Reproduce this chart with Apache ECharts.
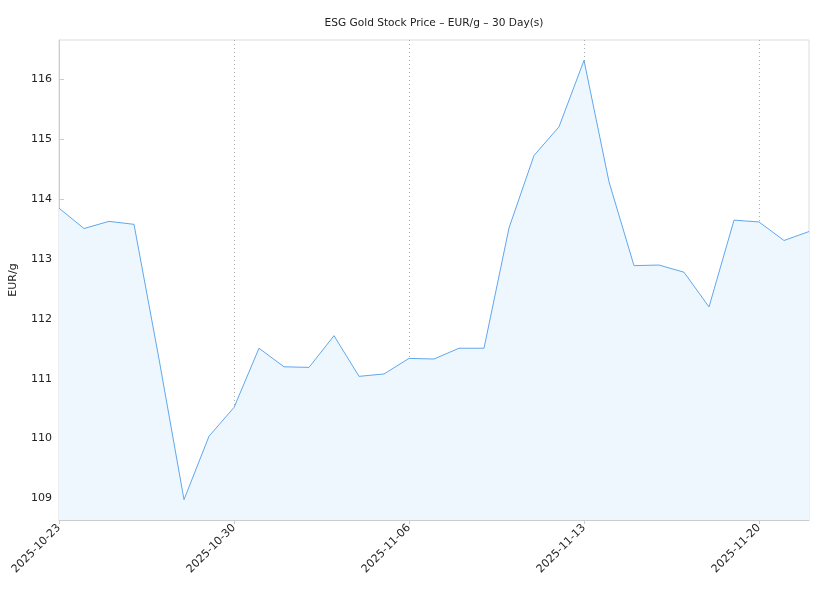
<!DOCTYPE html>
<html>
<head>
<meta charset="utf-8">
<script src="https://cdn.jsdelivr.net/npm/echarts@6/dist/echarts.min.js"></script>
<style>html,body{margin:0;padding:0;background:#fff}#c{width:830px;height:600px}</style>
</head>
<body>
<div id="c"></div>
<script>
const dates = ["2025-10-23","2025-10-24","2025-10-25","2025-10-26","2025-10-27","2025-10-28","2025-10-29","2025-10-30","2025-10-31","2025-11-01","2025-11-02","2025-11-03","2025-11-04","2025-11-05","2025-11-06","2025-11-07","2025-11-08","2025-11-09","2025-11-10","2025-11-11","2025-11-12","2025-11-13","2025-11-14","2025-11-15","2025-11-16","2025-11-17","2025-11-18","2025-11-19","2025-11-20","2025-11-21","2025-11-22"];
const prices = [113.85,113.51,113.63,113.58,111.33,108.98,110.04,110.52,111.51,111.20,111.19,111.72,111.04,111.08,111.34,111.33,111.51,111.51,113.52,114.73,115.21,116.32,114.29,112.89,112.90,112.78,112.20,113.65,113.62,113.31,113.46];
const yTicks = [109,110,111,112,113,114,115,116];
const yMin = 108.64, yMax = 116.66;

const chart = echarts.init(document.getElementById('c'), null, {renderer:'canvas'});
const font = 'DejaVu Sans';
chart.setOption({
  animation:false,
  backgroundColor:'#fff',
  textStyle:{fontFamily:font},
  title:{
    text:'ESG Gold Stock Price – EUR/g – 30 Day(s)',
    left:429, textAlign:'center', top:13,
    textStyle:{fontSize:10.6, fontWeight:'normal', color:'#222', fontFamily:font}
  },
  grid:{left:57, right:21, top:40, bottom:80, show:true, borderColor:'#ddd', borderWidth:1, backgroundColor:'transparent'},
  xAxis:{
    type:'category', data:dates, boundaryGap:false,
    axisLine:{lineStyle:{color:'#ccc'}},
    axisTick:{show:true, interval:6, length:4, lineStyle:{color:'#ccc'}},
    axisLabel:{interval:6, rotate:45, fontSize:11, color:'#222', margin:6, fontFamily:font},
    splitLine:{show:true, interval:6, lineStyle:{color:'#aaa', type:[1,3], width:1}}
  },
  yAxis:{
    type:'value', min:yMin, max:yMax,
    name:'EUR/g', nameLocation:'middle', nameRotate:90, nameGap:40,
    nameTextStyle:{fontSize:11, color:'#222', fontFamily:font},
    axisLine:{show:true, lineStyle:{color:'#ccc'}},
    axisTick:{show:true, inside:true, length:5, customValues:yTicks, lineStyle:{color:'#ccc'}},
    axisLabel:{customValues:yTicks, fontSize:11, color:'#222', margin:7, fontFamily:font},
    splitLine:{show:false}
  },
  series:[{
    type:'line', data:prices, showSymbol:false, symbol:'none',
    lineStyle:{color:'#5fa8f0', width:1},
    areaStyle:{color:'#eef6fe', opacity:1}
  }]
});
</script>
</body>
</html>
